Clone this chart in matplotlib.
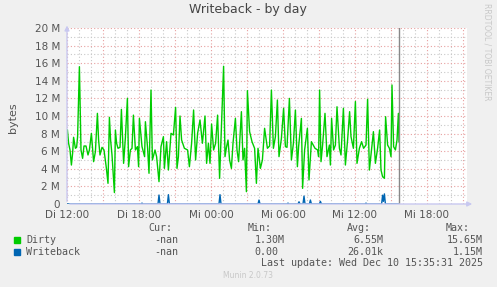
import matplotlib.pyplot as plt
from matplotlib.ticker import MultipleLocator, FixedLocator

# minutes since Di 12:00, values in M (bytes / 1e6)
dirtyMinutes = [2, 8, 15, 22, 28, 33, 42, 48, 53, 62, 70, 78, 85, 95, 105, 112, 122, 133, 142, 152,
                158, 165, 175, 185, 197, 205, 212, 218, 225, 237, 242, 248, 255, 265, 272, 283, 292, 302, 308, 317,
                325, 332, 342, 352, 358, 362, 375, 388, 392, 403, 410, 420, 427, 440, 448, 460, 470, 482, 487, 498,
                507, 520, 532, 543, 550, 557, 565, 573, 587, 603, 612, 623, 633, 643, 653, 665, 677, 690, 698, 707,
                715, 723, 733, 743, 753, 763, 783, 790, 798, 805, 813, 822, 830, 842, 850, 858, 872, 880, 888, 897,
                902, 913, 925, 938, 947, 955, 967, 977, 988, 1002, 1013, 1022, 1032, 1042, 1052, 1060, 1072, 1083, 1092, 1100,
                1112, 1122, 1132, 1142, 1152, 1158, 1172, 1178, 1188, 1202, 1210, 1222, 1240, 1253, 1258, 1263, 1270, 1278, 1290, 1300,
                1312, 1317, 1323, 1333, 1342, 1350, 1362, 1370, 1382, 1392, 1403, 1413, 1420, 1432, 1442, 1450, 1462, 1473, 1483, 1495,
                1503, 1512, 1520, 1532, 1542, 1553, 1563, 1570, 1578, 1587, 1593, 1603, 1612, 1620, 1625, 1633, 1642, 1650, 1657, 1660]
dirtyValues = [8.41, 6.9, 6.14, 4.43, 5.76, 7.58, 6.33, 6.44, 7.65, 15.6, 6.14, 5.19, 6.59, 6.59, 5.57, 6.14, 8.03, 4.81, 5.95, 10.3,
               7.27, 5.57, 6.44, 6.14, 4.05, 2.35, 9.85, 7.27, 5.57, 1.3, 8.41, 6.9, 6.33, 6.44, 10.75, 4.62, 7.58, 12.0, 4.24, 6.14,
               6.33, 10.1, 6.14, 6.52, 4.24, 9.73, 6.52, 5.38, 9.35, 6.33, 3.49, 12.95, 5.0, 6.14, 5.38, 2.54, 6.52, 7.65, 4.05, 7.08,
               3.86, 8.03, 7.84, 10.98, 4.05, 5.38, 10.0, 7.27, 6.33, 6.14, 4.24, 6.9, 10.68, 5.0, 8.03, 9.55, 6.9, 10.0, 4.62, 6.9,
               4.62, 9.09, 6.14, 6.9, 10.1, 2.92, 15.65, 5.38, 6.52, 7.27, 5.0, 4.05, 6.9, 9.73, 6.14, 4.81, 10.49, 5.0, 6.33, 1.4,
               12.88, 8.22, 7.08, 6.33, 2.35, 6.33, 4.05, 5.0, 8.6, 6.33, 6.59, 12.95, 6.33, 7.65, 11.82, 5.38, 7.46, 10.87, 6.52, 6.44,
               12.0, 5.0, 6.9, 10.68, 4.24, 6.52, 9.73, 1.78, 6.14, 8.6, 2.73, 7.08, 6.33, 6.14, 5.38, 12.95, 4.81, 6.7, 10.3, 5.38,
               6.7, 4.43, 9.73, 6.14, 6.7, 11.05, 6.33, 5.57, 10.87, 4.43, 7.27, 10.49, 7.65, 6.33, 11.64, 4.62, 6.33, 7.08, 6.33, 6.7,
               11.9, 3.86, 5.57, 8.22, 4.62, 6.33, 8.41, 3.86, 3.1, 2.92, 9.92, 6.7, 6.33, 5.38, 13.52, 6.52, 6.14, 7.27, 10.3, 7.08]

wbMinutes = [0, 370, 375, 380, 455, 460, 465, 502, 507, 512, 760, 765, 770, 955, 960, 965, 1100, 1105, 1110, 1155,
             1160, 1165, 1180, 1185, 1190, 1212, 1217, 1222, 1262, 1267, 1272, 1490, 1495, 1500, 1573, 1578, 1582, 1587, 1592, 1660]
wbValues = [0, 0, 0.1, 0, 0, 1.02, 0, 0, 1.06, 0, 0, 1.06, 0, 0, 0.45, 0, 0, 0.1, 0, 0,
            0.25, 0, 0, 0.9, 0, 0, 0.45, 0, 0, 0.3, 0, 0, 0.1, 0, 0, 1.0, 0.3, 1.15, 0, 0]

xTicks = [0, 360, 720, 1080, 1440, 1800]
xTickLabels = ['Di 12:00', 'Di 18:00', 'Mi 00:00', 'Mi 06:00', 'Mi 12:00', 'Mi 18:00']
yTicks = list(range(0, 21, 2))
yTickLabels = ['0'] + ['%d M' % v for v in yTicks[1:]]
nowMinute = 1662

colors = dict()
colors['background'] = '#f0f0f0'
colors['dirty'] = '#00cc00'
colors['writeback'] = '#0066b3'
colors['major'] = '#e8a0a0'
colors['minor'] = '#c8c8c8'
colors['axis'] = '#c8c8f0'
colors['text'] = '#555555'

W, H = 497, 287
fig = plt.figure(figsize=(W / 100, H / 100), dpi=100, facecolor=colors['background'])
ax = fig.add_axes([67 / W, (H - 204) / H, 400 / W, 176 / H])
ax.set_facecolor('white')

ax.set_xlim(0, 2000)
ax.set_ylim(0, 20)
ax.xaxis.set_major_locator(MultipleLocator(180))
ax.xaxis.set_minor_locator(MultipleLocator(60))
ax.yaxis.set_major_locator(FixedLocator(yTicks))
ax.yaxis.set_minor_locator(MultipleLocator(1))
ax.grid(which='minor', color=colors['minor'], linestyle=(0, (1, 2)), linewidth=0.8)
ax.grid(which='major', color=colors['major'], linestyle=(0, (1, 2)), linewidth=0.8)
ax.set_axisbelow(True)

ax.set_xticklabels([])
ax.set_yticklabels(yTickLabels)
ax.tick_params(which='both', length=0)
ax.tick_params(axis='y', labelsize=7.5, labelcolor=colors['text'], pad=5)
for t, lab in zip(xTicks, xTickLabels):
    ax.text(t, -0.7, lab, ha='center', va='top', fontsize=7.5, color=colors['text'], clip_on=False)

for s in ax.spines.values():
    s.set_visible(False)
ax.annotate('', xy=(2040, 0), xytext=(0, 0), xycoords='data', annotation_clip=False,
            arrowprops=dict(arrowstyle='-|>', color=colors['axis'], lw=1, mutation_scale=7))
ax.annotate('', xy=(0, 20.6), xytext=(0, 0), xycoords='data', annotation_clip=False,
            arrowprops=dict(arrowstyle='-|>', color=colors['axis'], lw=1, mutation_scale=7))

ax.plot(dirtyMinutes, dirtyValues, color=colors['dirty'], linewidth=1.0)
ax.plot(wbMinutes, wbValues, color=colors['writeback'], linewidth=1.0)
ax.axvline(nowMinute, color='#888888', linewidth=1.0)

fig.text(248 / W, 1 - 10 / H, 'Writeback - by day', ha='center', va='center', fontsize=9, color='#444444')
fig.text(13 / W, 1 - 118 / H, 'bytes', ha='center', va='center', rotation=90, fontsize=8, color=colors['text'])
fig.text(487 / W, 1 - 52 / H, 'RRDTOOL / TOBI OETIKER', ha='center', va='center', rotation=-90,
         fontsize=5.5, color='#c8c8c8')

mono = dict(family='DejaVu Sans Mono', fontsize=7.2, color=colors['text'], va='center')
def put(x, y, s, ha='left', **kw):
    d = dict(mono)
    d.update(kw)
    fig.text(x / W, 1 - y / H, s, ha=ha, **d)

put(172, 228, 'Cur:', ha='right')
put(272, 228, 'Min:', ha='right')
put(371, 228, 'Avg:', ha='right')
put(470, 228, 'Max:', ha='right')

rows = [('Dirty', colors['dirty'], ['-nan', '1.30M', '6.55M', '15.65M']),
        ('Writeback', colors['writeback'], ['-nan', '0.00', '26.01k', '1.15M'])]
rightEdges = [178, 285, 383, 483]
for i, (name, col, vals) in enumerate(rows):
    y = 240 + i * 12
    fig.patches.append(plt.Rectangle((14 / W, 1 - (y + 3) / H), 6 / W, 6 / H,
                                     transform=fig.transFigure, color=col, figure=fig))
    put(26, y, name)
    for v, xr in zip(vals, rightEdges):
        if v == '0.00':
            xr = 278
        put(xr, y, v, ha='right')

put(483, 263, 'Last update: Wed Dec 10 15:35:31 2025', ha='right')
fig.text(248 / W, 1 - 276 / H, 'Munin 2.0.73', ha='center', va='center', fontsize=5.5, color='#c8c8c8')

plt.savefig('out.png', dpi=100, facecolor=colors['background'])
